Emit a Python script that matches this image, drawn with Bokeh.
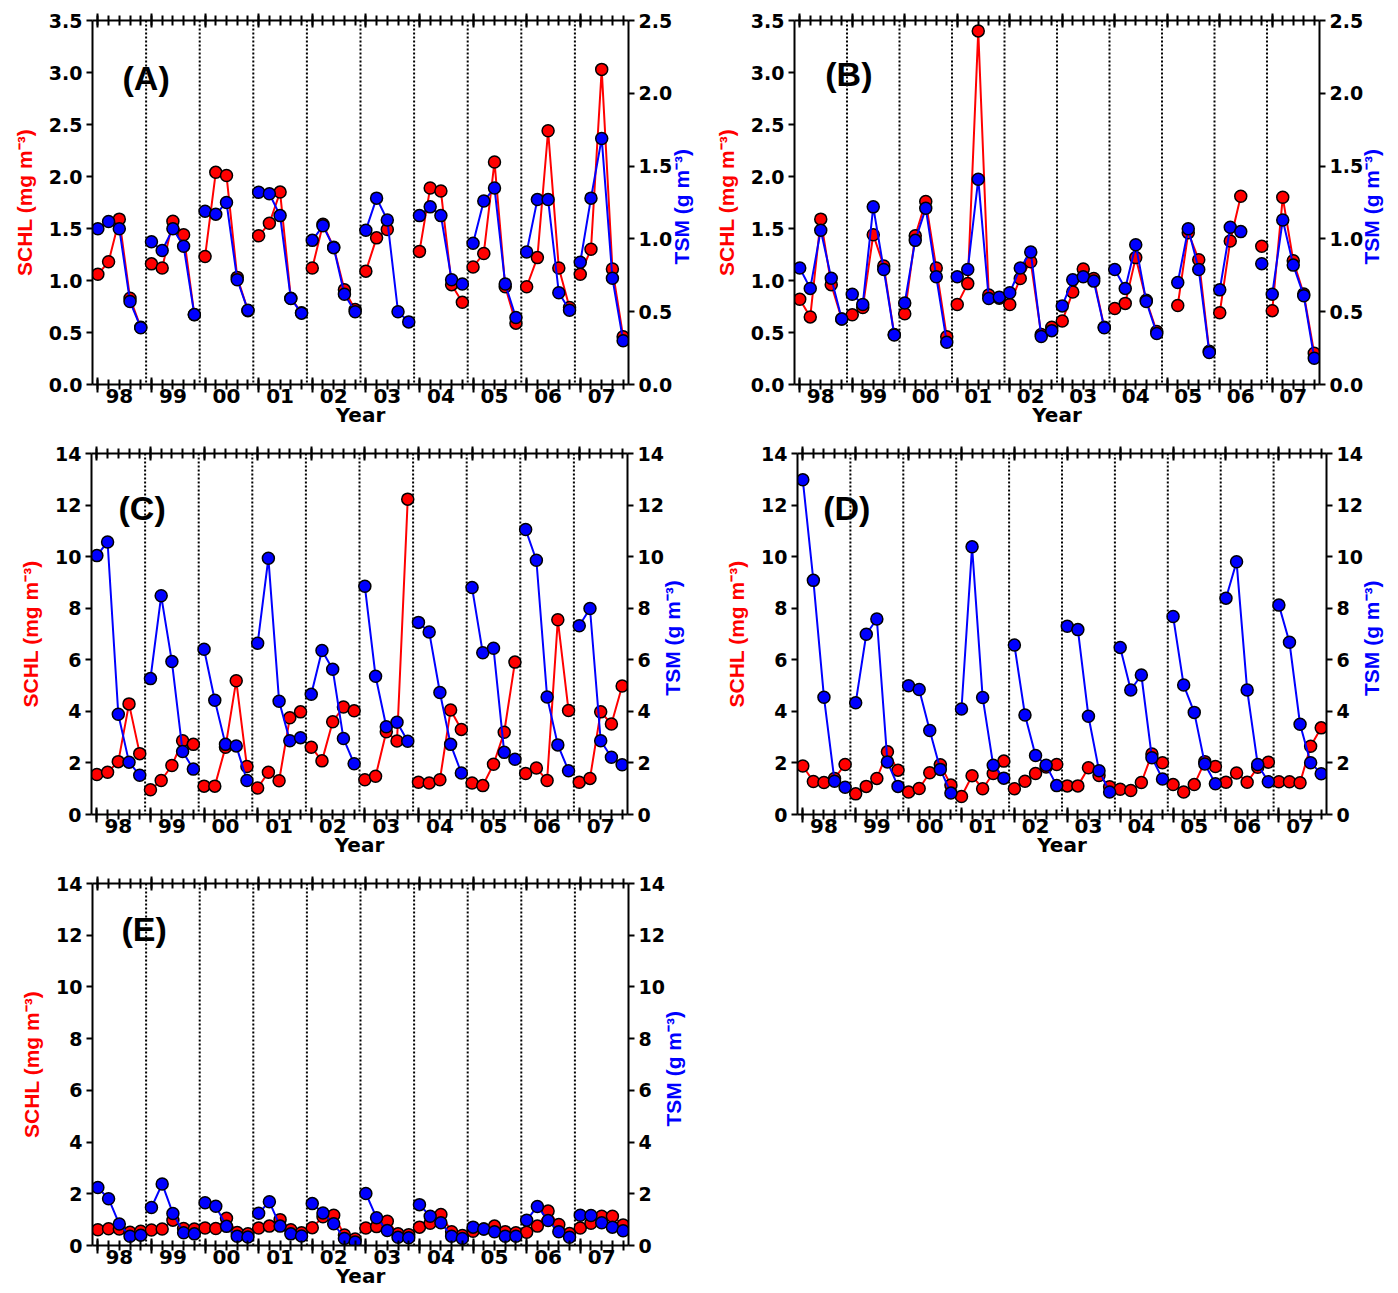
import numpy as np
from bokeh.plotting import figure
from bokeh.models import (Range1d, LinearAxis, FixedTicker, PrintfTickFormatter,
                          Label, Span)
from bokeh.layouts import column, row
from bokeh.embed import file_html
from bokeh.resources import INLINE

nan = float("nan")

YEAR_LABELS = ["98", "99", "00", "01", "02", "03", "04", "05", "06", "07"]
N_PER_YEAR = 5

# ---------------- Panel A ----------------
A_SCHL = [1.06, 1.18, 1.59, 0.83, 0.55,
          1.16, 1.12, 1.57, 1.44, 0.67,
          1.23, 2.04, 2.01, 1.03, 0.71,
          1.43, 1.55, 1.85, 0.83, 0.69,
          1.12, 1.54, 1.32, 0.91, 0.72,
          1.09, 1.41, 1.49, nan, nan,
          1.28, 1.89, 1.86, 0.96, 0.79,
          1.13, 1.26, 2.14, 0.94, 0.59,
          0.94, 1.22, 2.44, 1.12, 0.74,
          1.06, 1.30, 3.03, 1.11, 0.46]
A_TSM = [1.07, 1.12, 1.07, 0.57, 0.39,
         0.98, 0.92, 1.07, 0.95, 0.48,
         1.19, 1.17, 1.25, 0.72, 0.51,
         1.32, 1.31, 1.16, 0.59, 0.49,
         0.99, 1.09, 0.94, 0.62, 0.50,
         1.06, 1.28, 1.13, 0.50, 0.43,
         1.16, 1.22, 1.16, 0.72, 0.69,
         0.97, 1.26, 1.35, 0.69, 0.46,
         0.91, 1.27, 1.27, 0.63, 0.51,
         0.84, 1.28, 1.69, 0.73, 0.30]

# ---------------- Panel B ----------------
B_SCHL = [0.82, 0.65, 1.59, 0.96, 0.63,
          0.67, 0.74, 1.44, 1.14, 0.48,
          0.68, 1.43, 1.76, 1.12, 0.46,
          0.77, 0.97, 3.40, 0.86, 0.83,
          0.77, 1.02, 1.18, 0.48, 0.55,
          0.61, 0.89, 1.11, 1.02, 0.55,
          0.73, 0.78, 1.22, 0.81, 0.51,
          nan, 0.76, 1.46, 1.20, 0.32,
          0.69, 1.38, 1.81, nan, 1.33,
          0.71, 1.80, 1.19, 0.87, 0.30]
B_TSM = [0.80, 0.66, 1.06, 0.73, 0.45,
         0.62, 0.55, 1.22, 0.79, 0.34,
         0.56, 0.99, 1.21, 0.74, 0.29,
         0.74, 0.79, 1.41, 0.59, 0.60,
         0.63, 0.80, 0.91, 0.33, 0.37,
         0.54, 0.72, 0.74, 0.71, 0.39,
         0.79, 0.66, 0.96, 0.57, 0.35,
         nan, 0.70, 1.07, 0.79, 0.22,
         0.65, 1.08, 1.05, nan, 0.83,
         0.62, 1.13, 0.82, 0.61, 0.18]

# ---------------- Panel C ----------------
C_SCHL = [1.55, 1.64, 2.05, 4.29, 2.36,
          0.96, 1.32, 1.90, 2.86, 2.72,
          1.10, 1.10, 2.61, 5.19, 1.86,
          1.03, 1.64, 1.31, 3.75, 3.98,
          2.61, 2.08, 3.60, 4.17, 4.02,
          1.35, 1.48, 3.21, 2.85, 12.23,
          1.25, 1.22, 1.35, 4.05, 3.30,
          1.22, 1.12, 1.95, 3.19, 5.91,
          1.59, 1.80, 1.32, 7.55, 4.03,
          1.25, 1.40, 3.98, 3.51, 4.98]
C_TSM = [10.04, 10.57, 3.89, 2.03, 1.52,
         5.27, 8.48, 5.93, 2.44, 1.76,
         6.41, 4.43, 2.72, 2.66, 1.32,
         6.64, 9.94, 4.39, 2.86, 2.98,
         4.66, 6.36, 5.63, 2.95, 1.97,
         8.85, 5.36, 3.40, 3.58, 2.84,
         7.45, 7.08, 4.73, 2.72, 1.61,
         8.80, 6.27, 6.45, 2.41, 2.14,
         11.05, 9.86, 4.56, 2.70, 1.70,
         7.32, 7.99, 2.86, 2.22, 1.93]

# ---------------- Panel D ----------------
D_SCHL = [1.88, 1.28, 1.24, 1.40, 1.94,
          0.80, 1.09, 1.40, 2.43, 1.72,
          0.87, 1.01, 1.62, 1.93, 1.14,
          0.70, 1.50, 1.00, 1.59, 2.07,
          1.00, 1.29, 1.59, 1.84, 1.94,
          1.11, 1.11, 1.81, 1.51, 1.08,
          0.98, 0.93, 1.24, 2.35, 2.01,
          1.16, 0.87, 1.16, 2.05, 1.86,
          1.25, 1.61, 1.25, 1.83, 2.03,
          1.27, 1.27, 1.23, 2.65, 3.36]
D_TSM = [12.98, 9.08, 4.55, 1.29, 1.06,
         4.33, 6.99, 7.58, 2.04, 1.09,
         4.99, 4.85, 3.26, 1.75, 0.83,
         4.09, 10.38, 4.54, 1.91, 1.41,
         6.57, 3.86, 2.29, 1.91, 1.12,
         7.30, 7.17, 3.81, 1.70, 0.87,
         6.48, 4.83, 5.41, 2.20, 1.38,
         7.68, 5.02, 3.96, 1.96, 1.19,
         8.39, 9.80, 4.83, 1.94, 1.27,
         8.12, 6.68, 3.50, 2.01, 1.58]

# ---------------- Panel E ----------------
E_SCHL = [0.61, 0.65, 0.64, 0.51, 0.55,
          0.60, 0.64, 0.98, 0.66, 0.64,
          0.68, 0.66, 1.05, 0.50, 0.45,
          0.68, 0.75, 1.00, 0.61, 0.49,
          0.69, 1.11, 1.17, 0.41, 0.25,
          0.68, 0.73, 0.94, 0.45, 0.42,
          0.71, 0.86, 1.20, 0.53, 0.39,
          0.55, 0.64, 0.75, 0.53, 0.49,
          0.51, 0.75, 1.33, 0.81, 0.46,
          0.68, 0.86, 1.13, 1.13, 0.79]
E_TSM = [2.24, 1.81, 0.83, 0.36, 0.40,
         1.47, 2.38, 1.24, 0.49, 0.45,
         1.65, 1.52, 0.74, 0.36, 0.33,
         1.25, 1.69, 0.75, 0.45, 0.37,
         1.62, 1.26, 0.84, 0.27, 0.14,
         2.01, 1.07, 0.58, 0.32, 0.30,
         1.58, 1.13, 0.88, 0.36, 0.27,
         0.71, 0.64, 0.53, 0.36, 0.36,
         0.98, 1.51, 0.97, 0.53, 0.32,
         1.17, 1.16, 0.88, 0.71, 0.57]

SCHL_TICKS_LOW = [0, 0.5, 1.0, 1.5, 2.0, 2.5, 3.0, 3.5]
TSM_TICKS_LOW = [0, 0.5, 1.0, 1.5, 2.0, 2.5]
TICKS_HIGH = [0, 2, 4, 6, 8, 10, 12, 14]

SCHL_TITLE = "SCHL (mg m\u207b\u00b3)"
TSM_TITLE = "TSM (g m\u207b\u00b3)"
X_TITLE = "Year"

RED = "#ff0000"
BLUE = "#0000ff"
TICK_FONT = "DejaVu Sans"
LABEL_FONT = "Liberation Sans"


def style_tick_axis(ax, ticker, tin_major, tout_major):
    ax.ticker = ticker
    ax.major_label_overrides = {t: "" for t in ticker.ticks}
    ax.major_label_text_font_size = "0px"
    ax.major_label_standoff = 0
    ax.axis_line_width = 2
    ax.major_tick_line_width = 2
    ax.minor_tick_line_width = 2
    ax.major_tick_in = tin_major
    ax.major_tick_out = tout_major
    ax.minor_tick_in = 5
    ax.minor_tick_out = 5


def style_y_axis(ax, ticks, fmt, standoff):
    ax.ticker = FixedTicker(ticks=ticks)
    ax.formatter = PrintfTickFormatter(format=fmt)
    ax.axis_line_width = 2
    ax.major_tick_line_width = 2
    ax.major_tick_in = 0
    ax.major_tick_out = 6
    ax.minor_tick_line_color = None
    ax.major_label_standoff = standoff
    ax.major_label_text_font = TICK_FONT
    ax.major_label_text_font_style = "bold"
    ax.major_label_text_font_size = "19px"
    ax.major_label_text_color = "black"


def make_panel(tag, schl, tsm, schl_max, tsm_max, schl_ticks, tsm_ticks, fmt,
               width, height, bl, br, bt, bb, tag_dx, tag_dy,
               right_standoff=4, title_standoff=6):
    n = len(schl)
    frame_w = width - bl - br
    frame_h = height - bt - bb
    x = np.arange(n)
    s = np.array(schl, dtype=float)
    t = np.array(tsm, dtype=float)

    p = figure(width=width, height=height,
               x_range=Range1d(-0.5, n - 0.5), y_range=Range1d(0, schl_max),
               output_backend="svg", toolbar_location=None, title_location=None,
               min_border_left=bl, min_border_right=br,
               min_border_top=bt, min_border_bottom=bb)
    p.extra_y_ranges = {"tsm": Range1d(0, tsm_max)}
    p.outline_line_color = None
    p.xgrid.visible = False
    p.ygrid.visible = False

    year_starts = [k * N_PER_YEAR for k in range(len(YEAR_LABELS))]
    year_mids = [k * N_PER_YEAR + (N_PER_YEAR - 1) // 2 for k in range(len(YEAR_LABELS))]

    # bottom tick axis (ticks only)
    style_tick_axis(p.xaxis[0], FixedTicker(ticks=year_starts, minor_ticks=list(range(n))), 7, 8)
    # bottom label axis (year labels + title)
    lab_ax = LinearAxis(ticker=FixedTicker(ticks=year_mids, minor_ticks=[]))
    lab_ax.major_label_overrides = {m: lab for m, lab in zip(year_mids, YEAR_LABELS)}
    lab_ax.axis_line_color = None
    lab_ax.major_tick_line_color = None
    lab_ax.minor_tick_line_color = None
    lab_ax.major_tick_in = 0
    lab_ax.major_tick_out = 0
    lab_ax.major_label_standoff = -4
    lab_ax.major_label_text_font = TICK_FONT
    lab_ax.major_label_text_font_style = "bold"
    lab_ax.major_label_text_font_size = "20px"
    lab_ax.major_label_text_color = "black"
    lab_ax.axis_label = X_TITLE
    lab_ax.axis_label_text_font = TICK_FONT
    lab_ax.axis_label_text_font_style = "bold"
    lab_ax.axis_label_text_font_size = "20px"
    lab_ax.axis_label_text_color = "black"
    lab_ax.axis_label_standoff = -3
    p.add_layout(lab_ax, "below")

    # top tick axis
    top_ax = LinearAxis()
    style_tick_axis(top_ax, FixedTicker(ticks=year_starts, minor_ticks=list(range(n))), 7, 7)
    p.add_layout(top_ax, "above")

    # left axis with title
    left_ax = p.yaxis[0]
    style_y_axis(left_ax, schl_ticks, fmt, 4)
    left_ax.axis_label = SCHL_TITLE
    left_ax.axis_label_text_font = LABEL_FONT
    left_ax.axis_label_text_font_style = "bold"
    left_ax.axis_label_text_font_size = "21px"
    left_ax.axis_label_text_color = RED
    left_ax.axis_label_standoff = 10

    # right axis (TSM scale)
    right_ax = LinearAxis(y_range_name="tsm")
    style_y_axis(right_ax, tsm_ticks, fmt, right_standoff)
    p.add_layout(right_ax, "right")

    # right-hand title carried by a bare axis, reading bottom to top
    title_start = round(schl_max * (0.5 - 62.0 / frame_h), 3)
    title_ax = LinearAxis(ticker=FixedTicker(ticks=[title_start], minor_ticks=[]))
    title_ax.major_label_overrides = {title_start: TSM_TITLE}
    title_ax.major_label_orientation = np.pi / 2
    title_ax.axis_line_color = None
    title_ax.major_tick_line_color = None
    title_ax.minor_tick_line_color = None
    title_ax.major_tick_in = 0
    title_ax.major_tick_out = 0
    title_ax.major_label_standoff = title_standoff
    title_ax.major_label_text_font = LABEL_FONT
    title_ax.major_label_text_font_style = "bold"
    title_ax.major_label_text_font_size = "21px"
    title_ax.major_label_text_color = BLUE
    p.add_layout(title_ax, "right")

    # dotted year separators
    for k in range(1, len(YEAR_LABELS)):
        p.add_layout(Span(location=k * N_PER_YEAR - 0.5, dimension="height",
                          line_color="black", line_width=2, line_dash="2 2",
                          level="underlay"))

    # data, one segment per year
    for k in range(len(YEAR_LABELS)):
        sl = slice(k * N_PER_YEAR, (k + 1) * N_PER_YEAR)
        p.line(x[sl], s[sl], line_color=RED, line_width=2)
    p.scatter(x, s, size=12, fill_color=RED, line_color="black", line_width=1.5)
    for k in range(len(YEAR_LABELS)):
        sl = slice(k * N_PER_YEAR, (k + 1) * N_PER_YEAR)
        p.line(x[sl], t[sl], line_color=BLUE, line_width=2, y_range_name="tsm")
    p.scatter(x, t, size=12, fill_color=BLUE, line_color="black", line_width=1.5,
              y_range_name="tsm")

    # panel tag
    p.add_layout(Label(x=-0.5 + tag_dx * n / frame_w,
                       y=schl_max - tag_dy * schl_max / frame_h, text=tag,
                       text_align="left", text_baseline="alphabetic",
                       text_font=LABEL_FONT, text_font_style="bold",
                       text_font_size="34px", text_color="black"))
    return p


pA = make_panel("(A)", A_SCHL, A_TSM, 3.5, 2.5, SCHL_TICKS_LOW, TSM_TICKS_LOW, "%.1f",
                710, 432, 92, 82, 20, 47, 30, 58)
pB = make_panel("(B)", B_SCHL, B_TSM, 3.5, 2.5, SCHL_TICKS_LOW, TSM_TICKS_LOW, "%.1f",
                687, 432, 84, 74, 20, 48, 31, 53, right_standoff=4, title_standoff=5)
pC = make_panel("(C)", C_SCHL, C_TSM, 14, 14, TICKS_HIGH, TICKS_HIGH, "%d",
                710, 430, 91, 83, 20, 47, 27, 55)
pD = make_panel("(D)", D_SCHL, D_TSM, 14, 14, TICKS_HIGH, TICKS_HIGH, "%d",
                687, 430, 87, 64, 21, 48, 26, 54)
pE = make_panel("(E)", E_SCHL, E_TSM, 14, 14, TICKS_HIGH, TICKS_HIGH, "%d",
                710, 430, 92, 82, 21, 47, 29, 45)

layout = column(row(pA, pB), row(pC, pD), pE)

open("out.html", "w").write(file_html(layout, INLINE))
